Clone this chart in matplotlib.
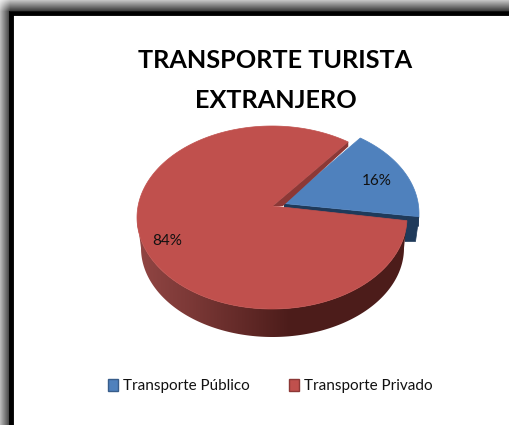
import numpy as np
import matplotlib
matplotlib.use('Agg')
import matplotlib.pyplot as plt
from matplotlib.patches import Polygon, Patch

title_lines = ['TRANSPORTE TURISTA', 'EXTRANJERO']
labels = ['Transporte Público', 'Transporte Privado']
shares = [16, 84]
pct_labels = ['16%', '84%']

plt.rcParams['font.family'] = ['Lato', 'DejaVu Sans']

fig = plt.figure(figsize=(5.1, 4.25), dpi=100)
ax = fig.add_axes([0, 0, 1, 1])

# gray shadow round the frame, then the black frame itself
yy, xx = np.mgrid[0:425, 0:510]
shade = (0.35 + 0.65 * np.clip(xx / 10, 0, 1)) * (0.3 + 0.7 * np.clip(yy / 11, 0, 1))
gray = np.clip(1 - 0.8 * shade, 0, 1)
gray[(xx >= 10) & (yy >= 11)] = 1
ax.imshow(gray, cmap='gray', vmin=0, vmax=1, extent=(0, 510, 425, 0), aspect='auto', zorder=0)
ax.add_patch(plt.Rectangle((11, 13), 520, 430, fc='white', ec='black', lw=3.5, zorder=1))

# top face ellipse, bottom rim is a little narrower
cx, cy, rx, ry = 272, 217.5, 135, 91.5
bx, by, brx, bry = 272.5, 248, 131.5, 89


def top_pt(deg, dx=0, dy=0):
    t = np.radians(deg)
    return np.column_stack([cx + dx + rx * np.cos(t), cy + dy - ry * np.sin(t)])


def low_pt(deg):
    t = np.radians(deg)
    return np.column_stack([bx + brx * np.cos(t), by - bry * np.sin(t)])


start = -2
blue_end = start + shares[0] * 3.6
red_end = blue_end + shares[1] * 3.6

# blue slice, pulled out of the pie
ox, oy = 12, -4
apex_blue = (284, 203.5)
p0 = top_pt(np.array([start]), ox, oy)[0]
ax.add_patch(Polygon([p0, (415.5, 241.5), (405, 241.5), (405, p0[1])], fc='#1f3a5a', ec='#1f3a5a', lw=0.5, zorder=2))
ax.add_patch(Polygon([apex_blue, p0, (p0[0], p0[1] + 10), (apex_blue[0], apex_blue[1] + 10)],
                     fc='#1f3a5a', ec='none', zorder=2))
arc = np.linspace(start, blue_end, 60)
ax.add_patch(Polygon(np.vstack([[apex_blue], top_pt(arc, ox, oy)]), fc='#4f81bd', ec='#4f81bd', lw=0.5, zorder=3))

# red side, gradient from the left to the front
steps = np.linspace(180, 360, 181)
outline = Polygon(np.vstack([top_pt(steps), low_pt(steps[::-1])]), fc='none', ec='none', transform=ax.transData)
ax.add_patch(outline)
ramp = np.interp(np.arange(510), [141, 190, 240, 290, 404], [0, 0.3, 0.65, 1, 1])
col_a = np.array([0x90, 0x45, 0x43]) / 255
col_b = np.array([0x4c, 0x1c, 0x1a]) / 255
strip = (col_a[None, None, :] * (1 - ramp[None, :, None]) + col_b[None, None, :] * ramp[None, :, None])
im = ax.imshow(strip, extent=(0, 510, 425, 0), aspect='auto', zorder=4)
im.set_clip_path(outline)

# red top face and its cut wall
apex_red = (273, 206)
arc = np.linspace(blue_end, red_end, 240)
ax.add_patch(Polygon(np.vstack([[apex_red], top_pt(arc)]), fc='#c0504d', ec='#c0504d', lw=0.5, zorder=5))
p1 = top_pt(np.array([blue_end]))[0]
ax.add_patch(Polygon([apex_red, p1, (p1[0], p1[1] + 4.5), (283, 206)], fc='#8c3836', ec='none', zorder=6))

ax.text(377, 181, pct_labels[0], ha='center', va='center', fontsize=11, color='#111111', zorder=7)
ax.text(167, 241, pct_labels[1], ha='center', va='center', fontsize=11, color='#111111', zorder=7)

ax.text(275.5, 60, title_lines[0], ha='center', va='center', fontsize=18.2, fontweight='bold', color='black', zorder=7)
ax.text(275.5, 100, title_lines[1], ha='center', va='center', fontsize=18.2, fontweight='bold', color='black', zorder=7)

handles = [Patch(fc='#4f81bd', ec='#385d8a', lw=1), Patch(fc='#c0504d', ec='#8c3836', lw=1)]
ax.legend(handles, labels, loc='center', bbox_to_anchor=(270 / 510, 1 - 386 / 425), ncol=2, frameon=False,
          fontsize=11, handlelength=0.7, handleheight=0.9, handletextpad=0.3, columnspacing=2.55,
          labelcolor='#111111')

ax.set_xlim(0, 510)
ax.set_ylim(425, 0)
ax.axis('off')

fig.savefig('out.png', dpi=100)
